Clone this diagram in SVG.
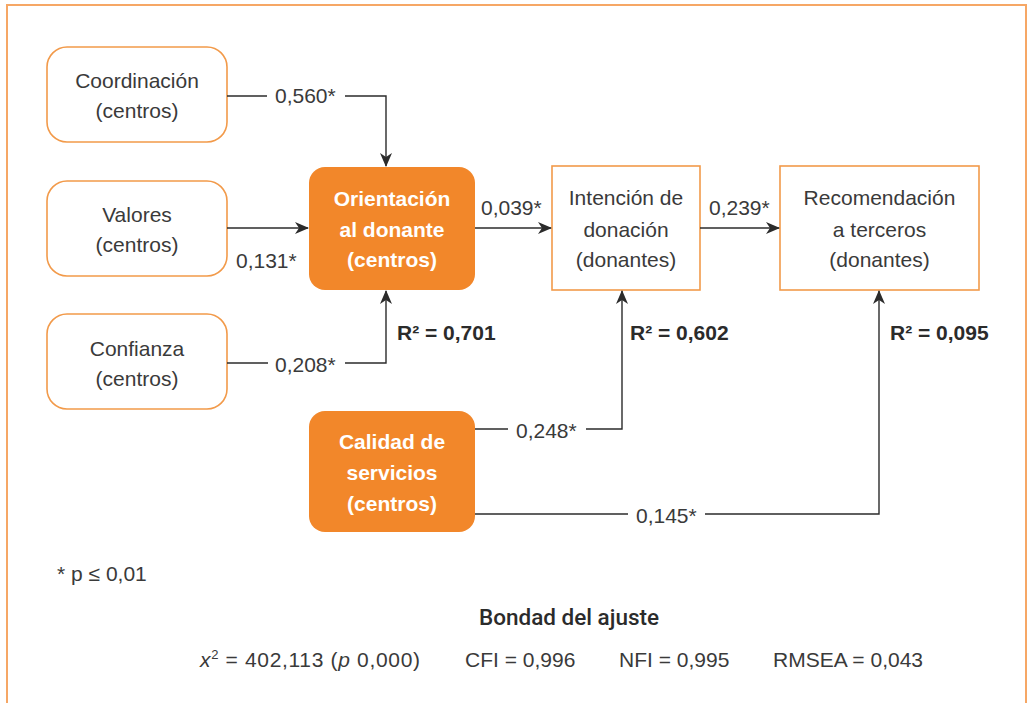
<svg xmlns="http://www.w3.org/2000/svg" width="1028" height="703" viewBox="0 0 1028 703">
<defs>
<marker id="arr" viewBox="0 0 14 12" refX="13" refY="6" markerWidth="14" markerHeight="12" markerUnits="userSpaceOnUse" orient="auto">
<path d="M0,0 L14,6 L0,12 L4,6 Z" fill="#2b2b2b"/>
</marker>
<style>
.frame{fill:#fff;stroke:#f6a765;stroke-width:2}
.wn{fill:#fff;stroke:#f29a4a;stroke-width:1.6}
.on{fill:#f2872a;stroke:none}
.t{font-family:"Liberation Sans",Arial,sans-serif;font-size:21px;fill:#3a3a3a;text-anchor:middle}
.tw{font-family:"Liberation Sans",Arial,sans-serif;font-size:21px;font-weight:bold;fill:#fff;text-anchor:middle}
.lab{font-family:"Liberation Sans",Arial,sans-serif;font-size:21px;fill:#3a3a3a}
.r2{font-family:"Liberation Sans",Arial,sans-serif;font-size:21px;font-weight:bold;fill:#2b2b2b}
.e{fill:none;stroke:#2b2b2b;stroke-width:1.4}
</style>
</defs>
<rect class="frame" x="7" y="5" width="1019" height="730"/>

<g id="n-coordinacion">
<rect class="wn" x="47" y="47" width="180" height="95" rx="20"/>
<text class="t" x="137" y="88">Coordinación</text>
<text class="t" x="137" y="118">(centros)</text>
</g>
<g id="n-valores">
<rect class="wn" x="47" y="181" width="180" height="95" rx="20"/>
<text class="t" x="137" y="222">Valores</text>
<text class="t" x="137" y="252">(centros)</text>
</g>
<g id="n-confianza">
<rect class="wn" x="47" y="314" width="180" height="95" rx="20"/>
<text class="t" x="137" y="356">Confianza</text>
<text class="t" x="137" y="386">(centros)</text>
</g>
<g id="n-orientacion">
<rect class="on" x="309" y="167" width="166" height="123" rx="16"/>
<text class="tw" x="392" y="206">Orientación</text>
<text class="tw" x="392" y="237">al donante</text>
<text class="tw" x="392" y="267">(centros)</text>
</g>
<g id="n-calidad">
<rect class="on" x="309" y="411" width="166" height="121" rx="16"/>
<text class="tw" x="392" y="449">Calidad de</text>
<text class="tw" x="392" y="480">servicios</text>
<text class="tw" x="392" y="511">(centros)</text>
</g>
<g id="n-intencion">
<rect class="wn" x="552" y="166" width="148" height="124"/>
<text class="t" x="626" y="205">Intención de</text>
<text class="t" x="626" y="237">donación</text>
<text class="t" x="626" y="267">(donantes)</text>
</g>
<g id="n-recomendacion">
<rect class="wn" x="780" y="166" width="199" height="124"/>
<text class="t" x="879.5" y="205">Recomendación</text>
<text class="t" x="879.5" y="237">a terceros</text>
<text class="t" x="879.5" y="267">(donantes)</text>
</g>

<g id="connectors">
<path class="e" d="M227,96 H267"/>
<path class="e" d="M345,96 H386 V166" marker-end="url(#arr)"/>
<path class="e" d="M227,228 H308" marker-end="url(#arr)"/>
<path class="e" d="M227,363 H268"/>
<path class="e" d="M345,363 H386 V291" marker-end="url(#arr)"/>
<path class="e" d="M475,228 H551" marker-end="url(#arr)"/>
<path class="e" d="M700,228 H779" marker-end="url(#arr)"/>
<path class="e" d="M475,429 H508"/>
<path class="e" d="M586,429 H622 V291" marker-end="url(#arr)"/>
<path class="e" d="M475,514 H628"/>
<path class="e" d="M705,514 H879 V291" marker-end="url(#arr)"/>
<text class="lab" x="275" y="103">0,560*</text>
<text class="lab" x="236" y="268">0,131*</text>
<text class="lab" x="275" y="372">0,208*</text>
<text class="lab" x="481" y="215">0,039*</text>
<text class="lab" x="709" y="215">0,239*</text>
<text class="lab" x="516" y="438">0,248*</text>
<text class="lab" x="636" y="523">0,145*</text>
<text class="r2" x="397" y="340">R² = 0,701</text>
<text class="r2" x="630" y="340">R² = 0,602</text>
<text class="r2" x="890" y="340">R² = 0,095</text>
</g>

<text class="lab" x="57" y="581">* p ≤ 0,01</text>
<text style="font-family:Roboto,'Liberation Sans',sans-serif;font-size:22.5px;font-weight:500;fill:#2b2b2b;text-anchor:middle" x="569" y="625">Bondad del ajuste</text>
<text class="lab" x="200" y="667" textLength="220" lengthAdjust="spacing"><tspan font-style="italic">x</tspan><tspan font-size="13" dy="-8">2</tspan><tspan dy="8"> = 402,113 (</tspan><tspan font-style="italic">p</tspan> 0,000)</text>
<text class="lab" x="465" y="667">CFI = 0,996</text>
<text class="lab" x="619" y="667">NFI = 0,995</text>
<text class="lab" x="773" y="667">RMSEA = 0,043</text>
</svg>
